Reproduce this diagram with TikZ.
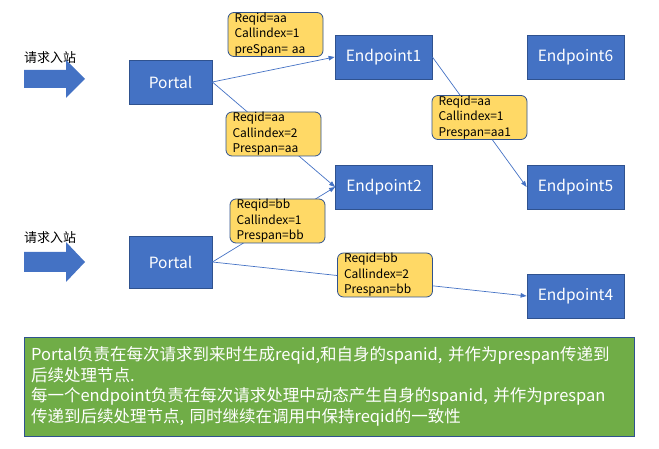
\documentclass[tikz,border=0pt]{standalone}
\usepackage{fontspec}
\setmainfont{Noto Sans CJK SC}
\usetikzlibrary{arrows.meta, positioning}
\definecolor{boxblue}{HTML}{4472C4}
\definecolor{edgeblue}{HTML}{2F528F}
\definecolor{tagyel}{HTML}{FFD966}
\definecolor{notegrn}{HTML}{70AD47}

\begin{document}
\begin{tikzpicture}[
    x=1pt, y=-1pt,
    blk/.style   = {rectangle, draw=edgeblue, fill=boxblue, line width=0.8pt, text=white,
                    font=\fontsize{15.5}{18}\selectfont, minimum width=97pt, minimum height=44pt},
    tag/.style   = {rectangle, rounded corners=6pt, draw=edgeblue, fill=tagyel, line width=0.8pt,
                    font=\fontsize{12}{15.5}\selectfont, align=left, text width=82pt,
                    inner xsep=6pt, inner ysep=0pt, minimum width=95pt, minimum height=44pt},
    note/.style  = {rectangle, draw=edgeblue, fill=notegrn, line width=0.8pt, text=white,
                    font=\fontsize{16.5}{20.8}\selectfont, align=left, text width=596pt,
                    inner xsep=7pt, minimum width=610pt, minimum height=99pt},
    src/.style   = {font=\fontsize{13}{15}\selectfont, inner sep=0pt},
    arr/.style   = {draw=boxblue, line width=0.7pt, -{Triangle[length=6pt, width=4.5pt]}},
    inarr/.style = {fill=boxblue},
  ]
    \useasboundingbox (0,0) rectangle (659,449);

    % --- incoming requests ---
    \node[src, anchor=west] (in1) at (24, 58) {请求入站};
    \fill[inarr] (24,70) -- ++(42,0) -- ++(0,-10) -- ++(19,19) -- ++(-19,19) -- ++(0,-10) -- ++(-42,0) -- cycle;
    \node[src, anchor=west] (in2) at (24, 238) {请求入站};
    \fill[inarr] (24,252) -- ++(42,0) -- ++(0,-10) -- ++(19,20) -- ++(-19,20) -- ++(0,-10) -- ++(-42,0) -- cycle;

    % --- services ---
    \node[blk, minimum width=83pt] (p1) at (170.5, 82) {Portal};
    \node[blk, minimum width=83pt, minimum height=52pt] (p2) at (170.5, 262) {Portal};
    \node[blk] (e1) at (383.5, 57)  {Endpoint1};
    \node[blk] (e6) at (575.5, 57)  {Endpoint6};
    \node[blk] (e2) at (384, 187)   {Endpoint2};
    \node[blk] (e5) at (575.5, 187) {Endpoint5};
    \node[blk] (e4) at (575.5, 296) {Endpoint4};

    % --- calls ---
    \draw[arr] (p1.east) -- (e1.west);
    \draw[arr] (p1.east) -- (e2.west);
    \draw[arr] (e1.east) -- (e5.west);
    \draw[arr] (p2.east) -- (e2.west);
    \draw[arr] (p2.east) -- (e4.west);

    % --- call context ---
    \node[tag] (t1) at (275.5, 34.5) {Reqid=aa\\Callindex=1\\preSpan= aa};
    \node[tag] (t2) at (273.5, 134)  {Reqid=aa\\Callindex=2\\Prespan=aa};
    \node[tag] (t3) at (479.5, 117.5) {Reqid=aa\\Callindex=1\\Prespan=aa1};
    \node[tag] (t4) at (277.5, 221)  {Reqid=bb\\Callindex=1\\Prespan=bb};
    \node[tag] (t5) at (385, 275)    {Reqid=bb\\Callindex=2\\Prespan=bb};

    % --- note ---
    \node[note] (nt) at (329, 386.5)
      {Portal负责在每次请求到来时生成reqid,和自身的spanid, 并作为prespan传递到\\
       后续处理节点.\\
       每一个endpoint负责在每次请求处理中动态产生自身的spanid, 并作为prespan\\
       传递到后续处理节点, 同时继续在调用中保持reqid的一致性};

  \end{tikzpicture}
\end{document}
